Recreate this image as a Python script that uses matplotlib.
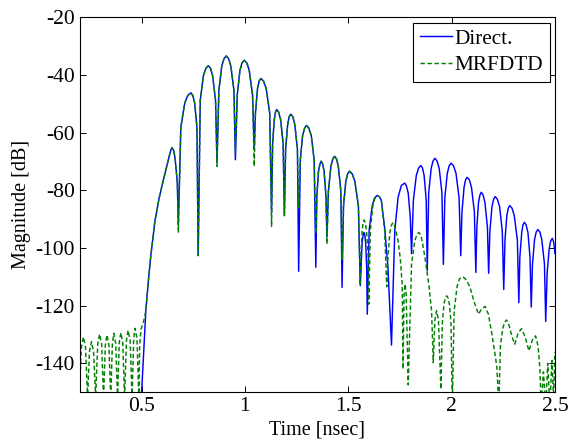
import matplotlib
matplotlib.use("Agg")
import matplotlib.pyplot as plt

# values: (time in nsec, magnitude in dB)
direct_pts = [
    (0.499, -152.0), (0.511, -135.0), (0.521, -121.5), (0.533, -111.5), (0.544, -103.3),
    (0.555, -96.5), (0.565, -90.5), (0.586, -82.4), (0.605, -76.6), (0.625, -70.8),
    (0.638, -67.0), (0.647, -65.2), (0.655, -66.1), (0.662, -68.7), (0.673, -77.2),
    (0.678, -92.0), (0.690, -58.2), (0.709, -49.7), (0.724, -47.1), (0.739, -46.2), (0.748, -47.1),
    (0.757, -49.7), (0.768, -58.2),
    (0.774, -102.5), (0.784, -48.8), (0.799, -40.3), (0.811, -37.7), (0.823, -36.8), (0.834, -37.7),
    (0.844, -40.3), (0.858, -48.8),
    (0.865, -70.5), (0.874, -45.4), (0.888, -36.9), (0.899, -34.3), (0.910, -33.4), (0.921, -34.3),
    (0.932, -36.9), (0.947, -45.4),
    (0.954, -69.4), (0.963, -46.9), (0.976, -38.4), (0.986, -35.8), (0.997, -34.9), (1.009, -35.8),
    (1.021, -38.4), (1.037, -46.9),
    (1.045, -66.0), (1.051, -53.2), (1.061, -44.7), (1.069, -42.1), (1.077, -41.2), (1.090, -42.1),
    (1.103, -44.7), (1.120, -53.2),
    (1.129, -88.0), (1.134, -64.0), (1.142, -55.5), (1.148, -52.9), (1.154, -52.0), (1.163, -52.9),
    (1.173, -55.5), (1.185, -64.0),
    (1.191, -88.8), (1.197, -65.6), (1.207, -57.1), (1.214, -54.5), (1.222, -53.6), (1.232, -54.5),
    (1.241, -57.1), (1.254, -65.6),
    (1.260, -108.1), (1.268, -69.5), (1.279, -61.0), (1.289, -58.4), (1.298, -57.5), (1.309, -58.4),
    (1.321, -61.0), (1.335, -69.5),
    (1.343, -106.7), (1.348, -81.9), (1.356, -73.4), (1.363, -70.8), (1.369, -69.9), (1.376, -70.8),
    (1.383, -73.4), (1.392, -81.9),
    (1.397, -96.0), (1.404, -80.2), (1.416, -71.7), (1.425, -69.1), (1.434, -68.2), (1.443, -69.1),
    (1.452, -71.7), (1.464, -80.2),
    (1.470, -113.7), (1.477, -85.4), (1.488, -76.9), (1.497, -74.3), (1.506, -73.4), (1.519, -74.3),
    (1.532, -76.9), (1.549, -85.4),
    (1.558, -113.1), (1.562, -106.6), (1.567, -98.1), (1.572, -95.5), (1.576, -94.6), (1.580, -95.5),
    (1.584, -98.1), (1.589, -106.6),
    (1.592, -123.0), (1.601, -93.8), (1.616, -85.3), (1.627, -82.7), (1.639, -81.8), (1.650, -82.2),
    (1.660, -83.5), (1.676, -93.0), (1.692, -107.0),
    (1.709, -133.7), (1.725, -94.0), (1.741, -82.4), (1.757, -78.3), (1.773, -77.5), (1.781, -78.4),
    (1.790, -81.0), (1.800, -89.5),
    (1.806, -102.0), (1.815, -83.4), (1.829, -74.9), (1.840, -72.3), (1.851, -71.4), (1.859, -72.3),
    (1.867, -74.9), (1.877, -83.4),
    (1.882, -107.9), (1.889, -80.9), (1.901, -72.4), (1.910, -69.8), (1.919, -68.9), (1.929, -69.8),
    (1.940, -72.4), (1.953, -80.9),
    (1.960, -105.7), (1.967, -82.6), (1.979, -74.1), (1.988, -71.5), (1.997, -70.6), (2.009, -71.5),
    (2.021, -74.1), (2.036, -82.6),
    (2.044, -102.7), (2.050, -87.5), (2.060, -79.0), (2.067, -76.4), (2.075, -75.5), (2.086, -76.4),
    (2.096, -79.0), (2.110, -87.5),
    (2.117, -108.5), (2.122, -92.7), (2.130, -84.2), (2.137, -81.6), (2.143, -80.7), (2.152, -81.6),
    (2.161, -84.2), (2.173, -92.7),
    (2.179, -108.8), (2.185, -94.2), (2.195, -85.7), (2.203, -83.1), (2.211, -82.2), (2.221, -83.1),
    (2.232, -85.7), (2.245, -94.2),
    (2.252, -114.4), (2.258, -97.3), (2.267, -88.8), (2.274, -86.2), (2.281, -85.3), (2.292, -86.2),
    (2.303, -88.8), (2.318, -97.3),
    (2.325, -119.0), (2.330, -103.1), (2.339, -94.6), (2.345, -92.0), (2.352, -91.1), (2.360, -92.0),
    (2.369, -94.6), (2.379, -103.1),
    (2.385, -120.5), (2.391, -105.6), (2.401, -97.1), (2.409, -94.5), (2.417, -93.6), (2.427, -94.5),
    (2.436, -97.1), (2.449, -105.6),
    (2.455, -125.5), (2.462, -108.7), (2.472, -100.2), (2.479, -97.6), (2.487, -96.7), (2.493, -97.8),
    (2.497, -100.0), (2.500, -102.0),
]

mrfdtd_pts = [
    (0.198, -152.0), (0.209, -134.4), (0.219, -130.9), (0.229, -134.4),
    (0.239, -152.0), (0.248, -136.0), (0.258, -132.5), (0.268, -136.0),
    (0.278, -152.0), (0.288, -133.4), (0.297, -129.9), (0.307, -133.4),
    (0.316, -152.0), (0.325, -133.7), (0.333, -130.2), (0.342, -133.7),
    (0.351, -152.0), (0.359, -133.1), (0.366, -129.6), (0.375, -133.1),
    (0.384, -152.0), (0.392, -132.9), (0.400, -129.4), (0.409, -132.9),
    (0.418, -152.0), (0.427, -132.1), (0.435, -128.6), (0.445, -132.1),
    (0.454, -152.0), (0.462, -131.4), (0.469, -127.9), (0.478, -131.4),
    (0.487, -152.0), (0.491, -134.0), (0.497, -128.3), (0.507, -126.3), (0.515, -124.0),
    (0.521, -121.5), (0.533, -111.5), (0.544, -103.3), (0.555, -96.5), (0.565, -90.5),
    (0.586, -82.4), (0.605, -76.6), (0.625, -70.8), (0.638, -67.0), (0.647, -65.2),
    (0.655, -66.1), (0.662, -68.7), (0.673, -77.2),
    (0.678, -94.5), (0.690, -58.2), (0.709, -49.7), (0.724, -47.1), (0.739, -46.2), (0.748, -47.1),
    (0.757, -49.7), (0.768, -58.2),
    (0.774, -102.7), (0.784, -48.8), (0.799, -40.3), (0.811, -37.7), (0.823, -36.8), (0.834, -37.7),
    (0.844, -40.3), (0.858, -48.8),
    (0.865, -71.7), (0.874, -45.4), (0.888, -36.9), (0.899, -34.3), (0.910, -33.4), (0.921, -34.3),
    (0.932, -36.9), (0.947, -45.4),
    (0.954, -67.0), (0.963, -46.9), (0.976, -38.4), (0.986, -35.8), (0.997, -34.9), (1.009, -35.8),
    (1.021, -38.4), (1.037, -46.9),
    (1.045, -71.7), (1.051, -53.2), (1.061, -44.7), (1.069, -42.1), (1.077, -41.2), (1.090, -42.1),
    (1.103, -44.7), (1.120, -53.2),
    (1.129, -92.5), (1.134, -64.0), (1.142, -55.5), (1.148, -52.9), (1.154, -52.0), (1.163, -52.9),
    (1.173, -55.5), (1.185, -64.0),
    (1.191, -88.8), (1.197, -65.6), (1.207, -57.1), (1.214, -54.5), (1.222, -53.6), (1.232, -54.5),
    (1.241, -57.1), (1.254, -65.6),
    (1.260, -86.0), (1.268, -69.5), (1.279, -61.0), (1.289, -58.4), (1.298, -57.5), (1.309, -58.4),
    (1.321, -61.0), (1.335, -69.5),
    (1.343, -95.0), (1.348, -81.9), (1.356, -73.4), (1.363, -70.8), (1.369, -69.9), (1.376, -70.8),
    (1.383, -73.4), (1.392, -81.9),
    (1.397, -98.6), (1.404, -80.2), (1.416, -71.7), (1.425, -69.1), (1.434, -68.2), (1.443, -69.1),
    (1.452, -71.7), (1.464, -80.2),
    (1.470, -104.0), (1.477, -85.4), (1.488, -76.9), (1.497, -74.3), (1.506, -73.4), (1.519, -74.3),
    (1.532, -76.9), (1.549, -85.4),
    (1.558, -113.0), (1.562, -102.3), (1.567, -93.8), (1.572, -91.2), (1.576, -90.3), (1.582, -91.2),
    (1.588, -93.8), (1.596, -102.3),
    (1.599, -119.5), (1.607, -93.8), (1.619, -85.3), (1.629, -82.7), (1.639, -81.8), (1.650, -82.2),
    (1.660, -83.5), (1.676, -94.0),
    (1.686, -113.5), (1.692, -103.2), (1.701, -94.7), (1.709, -92.1), (1.716, -91.2), (1.722, -91.8),
    (1.728, -93.5), (1.741, -97.5), (1.752, -104.0), (1.761, -113.0),
    (1.765, -142.0), (1.770, -116.0), (1.775, -112.5), (1.780, -116.0),
    (1.790, -147.5), (1.806, -105.6), (1.822, -97.5), (1.832, -95.4), (1.841, -94.6), (1.850, -95.4),
    (1.857, -97.5), (1.871, -103.3), (1.890, -113.0), (1.903, -121.8),
    (1.911, -139.8), (1.919, -125.0), (1.927, -121.8), (1.936, -125.0),
    (1.948, -149.0), (1.955, -126.0), (1.963, -119.5), (1.969, -117.4), (1.976, -116.6), (1.983, -117.4),
    (1.989, -119.5), (1.997, -126.0),
    (2.003, -155.0), (2.012, -122.0), (2.026, -113.5), (2.037, -110.9), (2.049, -110.0), (2.062, -110.4),
    (2.073, -111.4), (2.089, -113.7), (2.110, -119.0), (2.130, -123.0), (2.146, -121.0), (2.162, -120.3),
    (2.178, -123.0), (2.195, -130.0), (2.210, -137.0), (2.219, -141.5),
    (2.228, -155.0), (2.236, -134.0), (2.247, -128.0), (2.256, -125.8), (2.265, -125.0), (2.273, -125.8),
    (2.280, -127.5), (2.293, -131.0), (2.305, -133.4), (2.322, -129.5), (2.338, -128.0), (2.356, -131.0),
    (2.374, -135.7), (2.390, -132.0), (2.406, -130.5), (2.418, -134.0), (2.427, -142.0),
    (2.433, -155.0), (2.444, -143.0), (2.455, -155.0), (2.465, -140.0), (2.475, -155.0), (2.485, -139.0),
    (2.493, -152.0), (2.500, -136.0),
]

x_ticks = [0.5, 1, 1.5, 2, 2.5]
x_labels = ["0.5", "1", "1.5", "2", "2.5"]
y_ticks = [-140, -120, -100, -80, -60, -40, -20]

plt.rcParams['font.family'] = ['Liberation Serif', 'DejaVu Serif']
plt.rcParams['axes.unicode_minus'] = False

t1, db1 = zip(*direct_pts)
t2, db2 = zip(*mrfdtd_pts)

fig = plt.figure(figsize=(5.7, 4.41), dpi=100)
ax = fig.add_axes([0.1395, 0.111, 0.8342, 0.8497])

ax.plot(t1, db1, color='#0000ff', lw=1.05, label='Direct.')
ax.plot(t2, db2, color='#008000', lw=1.05, ls=(0, (3, 1.8)), label='MRFDTD')

ax.set_xlim(0.2, 2.5)
ax.set_ylim(-150, -20)
ax.set_xticks(x_ticks)
ax.set_xticklabels(x_labels)
ax.set_yticks(y_ticks)
ax.tick_params(direction='in', top=True, right=True, length=4, width=0.7,
               labelsize=15.5, pad=3.5)
for sp in ax.spines.values():
    sp.set_linewidth(0.8)

ax.set_xlabel('Time [nsec]', fontsize=14.5, labelpad=3)
ax.set_ylabel('Magnitude [dB]', fontsize=14.5, labelpad=3)

leg = ax.legend(loc='upper right', fontsize=15.3, handlelength=1.5, handletextpad=0.15,
                labelspacing=0.3, borderpad=0.3, borderaxespad=0.25, fancybox=False,
                framealpha=1)
leg.get_frame().set_edgecolor('black')
leg.get_frame().set_linewidth(0.8)

fig.savefig('out.png', dpi=100)
